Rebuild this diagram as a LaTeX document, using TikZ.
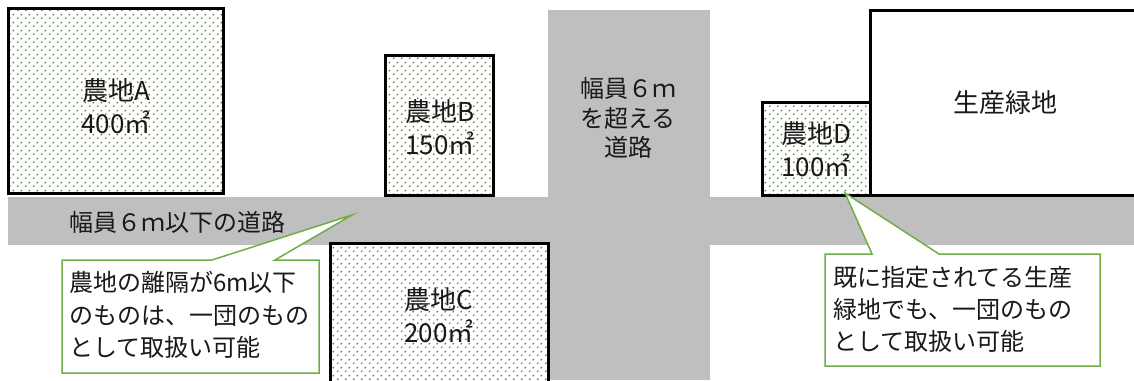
\documentclass[tikz,border=0pt]{standalone}
\usepackage{fontspec}
\setmainfont{Noto Sans CJK JP}
\usetikzlibrary{patterns.meta}
\definecolor{roadgray}{RGB}{191,191,191}
\definecolor{dotgreen}{RGB}{84,130,53}
\definecolor{notegreen}{RGB}{112,173,71}
\tikzdeclarepattern{name=farmdots, type=uncolored,
  bounding box={(0pt,0pt) and (8pt,8pt)}, tile size={(8pt,8pt)},
  code={\fill (2pt,2pt) circle (1.1pt); \fill (6pt,6pt) circle (1.1pt);}}
\tikzstyle{plan}=[x=1pt, y=-1pt, text=black!90]
\tikzstyle{road}=[fill=roadgray]
\tikzstyle{farm}=[draw=black, line width=3pt, preaction={fill=white}, pattern={farmdots}, pattern color=dotgreen]
\tikzstyle{green}=[draw=black, line width=3pt, fill=white]
\tikzstyle{note}=[draw=notegreen, line width=1.5pt, fill=white, line join=miter]
\tikzstyle{lbl}=[align=center, inner sep=0pt, font=\fontsize{24}{33}\selectfont]
\tikzstyle{farmlbl}=[lbl, font=\fontsize{26}{33}\selectfont]
\tikzstyle{notetxt}=[align=left, inner sep=0pt, anchor=north west, font=\fontsize{24}{32.5}\selectfont]

\begin{document}
\begin{tikzpicture}[plan]
	\useasboundingbox (0,0) rectangle (1134,380);
	%% roads
	\fill[road] (548,10) rectangle (710,380);
	\fill[road] (8,197) rectangle (1134,245);
	%% fields
	\draw[farm] (8,8) rectangle (223,193);
	\draw[farm] (385,55) rectangle (493,195);
	\draw[farm] (330,243) rectangle (548,390);
	\draw[green] (870,10) rectangle (1140,195);
	\draw[farm] (762,102) rectangle (870,195);
	%%%%%%
	\draw (116,106) node[farmlbl] (txtA) {農地A\\400㎡};
	\draw (440,127) node[farmlbl] (txtB) {農地B\\150㎡};
	\draw (439,315) node[farmlbl] (txtC) {農地C\\200㎡};
	\draw (816,149) node[farmlbl] (txtD) {農地D\\100㎡};
	\draw (1005,103) node[farmlbl] (txtGreen) {生産緑地};
	%%
	\draw (628,118) node[lbl, font=\fontsize{24}{29.5}\selectfont] (txtWide) {幅員６ｍ\\を超える\\道路};
	\draw (69,222) node[lbl, anchor=west] (txtNarrow) {幅員６ｍ以下の道路};
	%%%%%%
	\draw[note] (62,260) -- (212,260) -- (352,215) -- (275,260) -- (319,260)
		-- (319,373) -- (62,373) -- cycle;
	\draw (69,271) node[notetxt] (note1) {農地の離隔が6m以下\\のものは、一団のもの\\として取扱い可能};
	%%
	\draw[note] (825,254) -- (872,254) -- (845,193) -- (939,254) -- (1100,254)
		-- (1100,366) -- (825,366) -- cycle;
	\draw (833,266) node[notetxt, font=\fontsize{24}{32}\selectfont] (note2) {既に指定されてる生産\\緑地でも、一団のもの\\として取扱い可能};
\end{tikzpicture}
\end{document}
